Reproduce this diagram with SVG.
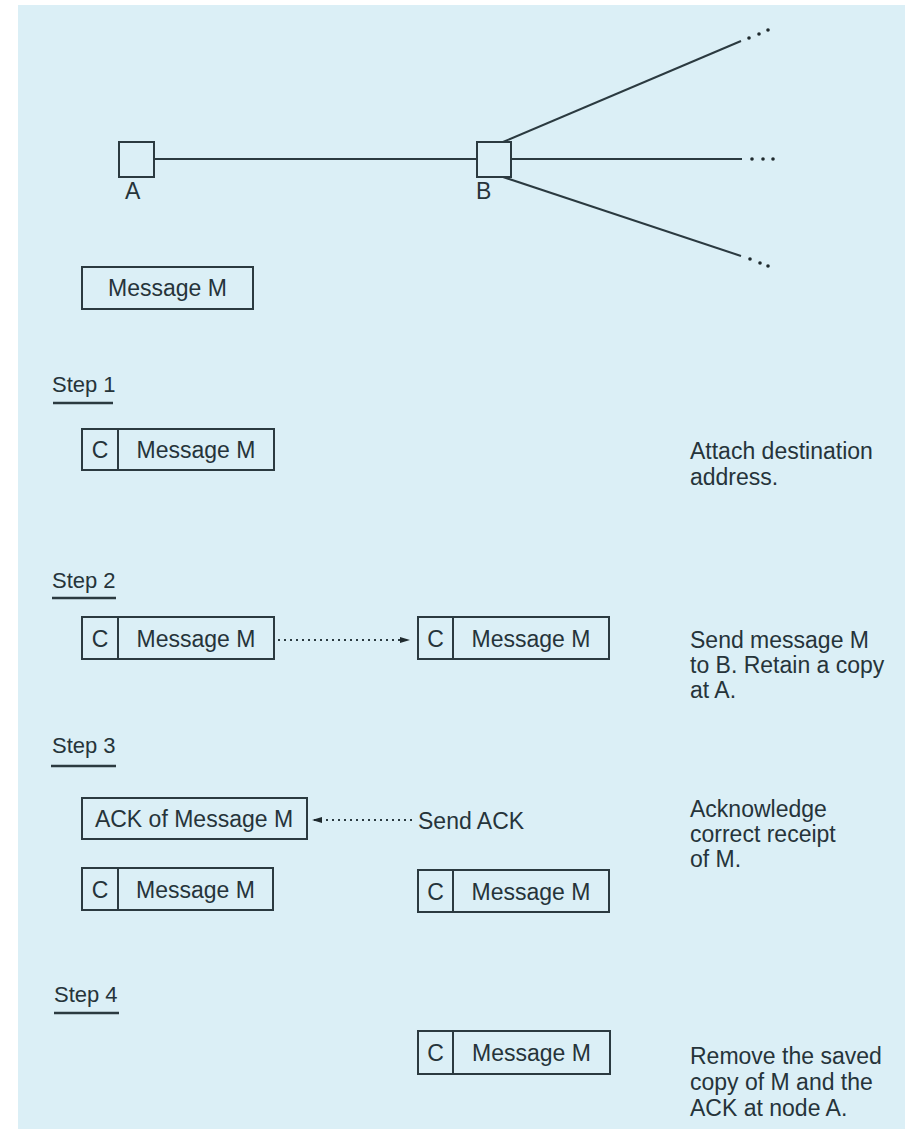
<svg xmlns="http://www.w3.org/2000/svg" width="905" height="1129" viewBox="0 0 905 1129">
<defs>
<style>
.t{font-family:"Liberation Sans",Arial,sans-serif;font-size:23px;fill:#26343a}
.s{font-family:"Liberation Sans",Arial,sans-serif;font-size:22px;fill:#26343a}
.b{fill:#dbeff6;stroke:#2b3a40;stroke-width:2}
.ln{stroke:#2b3a40;stroke-width:2;fill:none}
.dot{fill:#1f2a2e}
.dash{stroke:#2b3a40;stroke-width:2;stroke-dasharray:2 4;fill:none}
</style>
<marker id="ah" viewBox="0 0 10 10" refX="10" refY="5" markerWidth="10" markerHeight="10" markerUnits="userSpaceOnUse" orient="auto">
<path d="M0,2 L10,5 L0,8 z" fill="#1f2a2e"/>
</marker>
</defs>
<rect x="18" y="5" width="887" height="1124" fill="#dbeff6"/>

<g id="connectors">
<line class="ln" x1="154" y1="159" x2="477" y2="159"/>
<line class="ln" x1="503" y1="142" x2="741" y2="41"/>
<line class="ln" x1="511" y1="159" x2="742" y2="159"/>
<line class="ln" x1="503" y1="177" x2="741" y2="256"/>
<circle class="dot" cx="749" cy="38" r="1.8"/><circle class="dot" cx="759" cy="34" r="1.8"/><circle class="dot" cx="768" cy="30" r="1.8"/>
<circle class="dot" cx="752" cy="159" r="1.8"/><circle class="dot" cx="763" cy="159" r="1.8"/><circle class="dot" cx="773" cy="159" r="1.8"/>
<circle class="dot" cx="750" cy="259" r="1.8"/><circle class="dot" cx="760" cy="263" r="1.8"/><circle class="dot" cx="768" cy="266" r="1.8"/>
<line class="dash" x1="278" y1="640" x2="410" y2="640" marker-end="url(#ah)"/>
<line class="dash" x1="412" y1="820" x2="312" y2="820" marker-end="url(#ah)"/>
</g>

<g id="nodeA"><rect class="b" x="119" y="142" width="35" height="35"/><text class="t" x="125" y="199">A</text></g>
<g id="nodeB"><rect class="b" x="477" y="142" width="34" height="35"/><text class="t" x="476" y="199">B</text></g>

<g id="msg0"><rect class="b" x="82" y="267" width="171" height="42"/><text class="t" x="167.5" y="296" text-anchor="middle">Message M</text></g>

<g id="step1">
<text class="s" x="52" y="392">Step 1</text><line x1="53" y1="403" x2="113" y2="403" stroke="#2b3a40" stroke-width="2.5"/>
</g>
<g id="s1box"><rect class="b" x="82" y="429" width="192" height="41"/><line class="ln" x1="118" y1="429" x2="118" y2="470"/>
<text class="t" x="100" y="458" text-anchor="middle">C</text><text class="t" x="196" y="458" text-anchor="middle">Message M</text></g>
<g id="s1note"><text class="t" x="690" y="459">Attach destination</text><text class="t" x="690" y="485">address.</text></g>

<g id="step2">
<text class="s" x="52" y="588">Step 2</text><line x1="52" y1="598" x2="116" y2="598" stroke="#2b3a40" stroke-width="2.5"/>
</g>
<g id="s2boxA"><rect class="b" x="82" y="617" width="192" height="42"/><line class="ln" x1="118" y1="617" x2="118" y2="659"/>
<text class="t" x="100" y="647" text-anchor="middle">C</text><text class="t" x="196" y="647" text-anchor="middle">Message M</text></g>
<g id="s2boxB"><rect class="b" x="418" y="617" width="191" height="42"/><line class="ln" x1="453" y1="617" x2="453" y2="659"/>
<text class="t" x="435.5" y="647" text-anchor="middle">C</text><text class="t" x="531" y="647" text-anchor="middle">Message M</text></g>
<g id="s2note"><text class="t" x="690" y="648">Send message M</text><text class="t" x="690" y="673">to B. Retain a copy</text><text class="t" x="690" y="698">at A.</text></g>

<g id="step3">
<text class="s" x="52" y="753">Step 3</text><line x1="51" y1="766" x2="116" y2="766" stroke="#2b3a40" stroke-width="2.5"/>
</g>
<g id="ackbox"><rect class="b" x="82" y="798" width="225" height="41"/><text class="t" x="194" y="827" text-anchor="middle">ACK of Message M</text></g>
<g id="sendack"><text class="t" x="418" y="829">Send ACK</text></g>
<g id="s3boxA"><rect class="b" x="82" y="868" width="191" height="42"/><line class="ln" x1="118" y1="868" x2="118" y2="910"/>
<text class="t" x="100" y="898" text-anchor="middle">C</text><text class="t" x="195.5" y="898" text-anchor="middle">Message M</text></g>
<g id="s3boxB"><rect class="b" x="418" y="870" width="191" height="42"/><line class="ln" x1="453" y1="870" x2="453" y2="912"/>
<text class="t" x="435.5" y="900" text-anchor="middle">C</text><text class="t" x="531" y="900" text-anchor="middle">Message M</text></g>
<g id="s3note"><text class="t" x="690" y="817">Acknowledge</text><text class="t" x="690" y="842">correct receipt</text><text class="t" x="690" y="867">of M.</text></g>

<g id="step4">
<text class="s" x="54" y="1002">Step 4</text><line x1="54" y1="1013" x2="119" y2="1013" stroke="#2b3a40" stroke-width="2.5"/>
</g>
<g id="s4box"><rect class="b" x="418" y="1031" width="192" height="43"/><line class="ln" x1="453" y1="1031" x2="453" y2="1074"/>
<text class="t" x="435.5" y="1061" text-anchor="middle">C</text><text class="t" x="531.5" y="1061" text-anchor="middle">Message M</text></g>
<g id="s4note"><text class="t" x="690" y="1064">Remove the saved</text><text class="t" x="690" y="1090">copy of M and the</text><text class="t" x="690" y="1116">ACK at node A.</text></g>
</svg>
